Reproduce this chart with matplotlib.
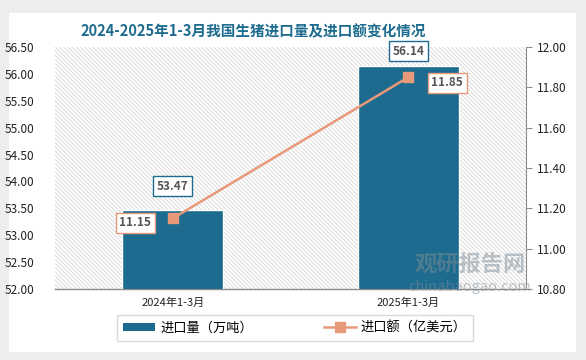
import matplotlib
matplotlib.use("Agg")
import matplotlib.pyplot as plt
from matplotlib.patches import Rectangle
from matplotlib.lines import Line2D
from matplotlib.patches import Patch

plt.rcParams['font.family'] = ['Noto Sans CJK SC', 'DejaVu Sans']
plt.rcParams['hatch.linewidth'] = 0.6

categories = ["2024年1-3月", "2025年1-3月"]
volume = [53.47, 56.14]       # 进口量（万吨）
value = [11.15, 11.85]        # 进口额（亿美元）
left_ticks = [52.00, 52.50, 53.00, 53.50, 54.00, 54.50, 55.00, 55.50, 56.00, 56.50]
right_ticks = [10.80, 11.00, 11.20, 11.40, 11.60, 11.80, 12.00]
title = "2024-2025年1-3月我国生猪进口量及进口额变化情况"
bar_label = "进口量（万吨）"
line_label = "进口额（亿美元）"

BAR = "#1d6b8e"
LINE = "#e8997a"
W, H = 586, 360

fig = plt.figure(figsize=(W / 100, H / 100), dpi=100)
fig.patch.set_facecolor("#ededed")
card = Rectangle((9 / W, 1 - 352 / H), (576 - 9) / W, (352 - 13) / H,
                 transform=fig.transFigure, facecolor="white", edgecolor="none", zorder=-10)
fig.patches.append(card)

ax = fig.add_axes([55 / W, 1 - 289 / H, (526 - 55) / W, (289 - 47) / H])
ax.set_facecolor("white")
hatch = Rectangle((0, 0), 1, 1, transform=ax.transAxes, facecolor="none",
                  edgecolor="#d6d6d6", hatch="\\\\\\\\\\\\\\\\", linewidth=0, zorder=0)
ax.add_patch(hatch)

x = [0, 1]
bars = ax.bar(x, volume, width=0.43, color=BAR, edgecolor="white", linewidth=1.0, zorder=3)
ax.set_xlim(-0.5, 1.5)
ax.set_ylim(left_ticks[0], left_ticks[-1])
ax.set_yticks(left_ticks)
ax.set_yticklabels([f"{t:.2f}" for t in left_ticks], fontsize=8.5, color="#222222")
ax.tick_params(axis="y", length=0, pad=15)
ax.set_xticks(x)
ax.set_xticklabels(categories, fontsize=8, color="#222222")
ax.tick_params(axis="x", length=0, pad=6)
for s in ["left", "top", "right"]:
    ax.spines[s].set_visible(False)
ax.spines["bottom"].set_color("#8c8c8c")
ax.spines["bottom"].set_linewidth(1.0)

# bar labels
bar_offsets = [(0, 17), (0, 11)]
for xi, v, off in zip(x, volume, bar_offsets):
    ax.annotate(f"{v:.2f}", (xi, v), xytext=off, textcoords="offset points",
                ha="center", va="center", fontsize=8.5, fontweight="bold", color="#555555",
                bbox=dict(boxstyle="square,pad=0.3", facecolor="white", edgecolor=BAR, linewidth=1.0),
                zorder=6, annotation_clip=False)

ax2 = ax.twinx()
ax2.set_ylim(right_ticks[0], right_ticks[-1])
ax2.set_yticks(right_ticks)
ax2.set_yticklabels([f"{t:.2f}" for t in right_ticks], fontsize=8.5, color="#222222")
ax2.tick_params(axis="y", length=4, color="#8c8c8c", pad=4)
for s in ["left", "top", "bottom"]:
    ax2.spines[s].set_visible(False)
ax2.spines["right"].set_color("#8c8c8c")
ax2.plot(x, value, color=LINE, linewidth=1.8, marker="s", markersize=6.5,
         markerfacecolor=LINE, markeredgecolor=LINE, zorder=5)
line_offsets = [(-27, -3), (28, -4)]
for xi, v, off in zip(x, value, line_offsets):
    ax2.annotate(f"{v:.2f}", (xi, v), xytext=off, textcoords="offset points",
                 ha="center", va="center", fontsize=8.5, fontweight="bold", color="#555555",
                 bbox=dict(boxstyle="square,pad=0.3", facecolor="white", edgecolor=LINE, linewidth=1.0),
                 zorder=6)

# watermark
fig.text(470 / W, 1 - 265 / H, "观研报告网", fontsize=16, fontweight="bold",
         color="#7f8d97", alpha=0.5, ha="center", va="center", zorder=10)
fig.text(470 / W, 1 - 287 / H, "chinabaogao.com", fontsize=10.5,
         color="#7f8d97", alpha=0.5, ha="center", va="center", zorder=10)

fig.text(253 / W, 1 - 31 / H, title, fontsize=10.5, fontweight="bold", color="#1d6b8e",
         ha="center", va="center")

handles = [Patch(facecolor=BAR, edgecolor="none"),
           Line2D([0], [0], color=LINE, linewidth=1.8, marker="s", markersize=6.5)]
leg = fig.legend(handles, [bar_label, line_label], loc="center",
                 bbox_to_anchor=(295 / W, 1 - 328 / H), ncol=2, frameon=True,
                 fontsize=9.5, handlelength=2.4, handleheight=0.5, columnspacing=5.4,
                 handletextpad=0.4, borderpad=0.45, borderaxespad=0, fancybox=False)
leg.get_frame().set_edgecolor("#d0d0d0")
leg.get_frame().set_linewidth(1.0)

fig.savefig("out.png", dpi=100, facecolor=fig.get_facecolor())
